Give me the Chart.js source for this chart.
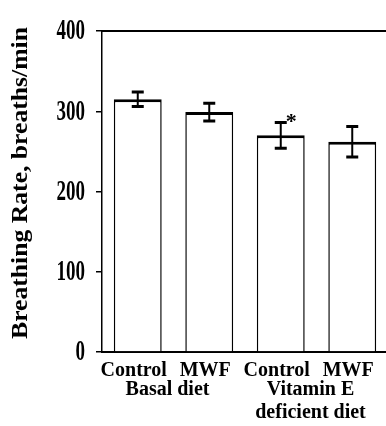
<!DOCTYPE html>
<html>
<head>
<meta charset="utf-8">
<script src="https://cdn.jsdelivr.net/npm/chart.js@4.4.1/dist/chart.umd.min.js"></script>
<style>
  html, body { margin: 0; padding: 0; background: #fff; overflow: hidden; }
  #wrap { width: 386px; height: 426px; overflow: hidden; }
  #wrap canvas { display: block; }
</style>
</head>
<body>
<div id="wrap"><canvas id="chart" width="390" height="426"></canvas></div>
<script>
// chart values
const categories = ['Control', 'MWF', 'Control', 'MWF'];
const groupLabels = [['Basal diet'], ['Vitamin E', 'deficient diet']];
const groupMembers = [[0, 1], [2, 3]];
const breathingRate = [315, 299, 270, 262];
const breathingSem = [9, 11, 16, 19];
const significance = ['', '', '*', ''];
const yTicks = [0, 100, 200, 300, 400];
const yTitle = 'Breathing Rate, breaths/min';

const serif = '"Liberation Serif", "Times New Roman", serif';

// error bars, significance star, top frame line
const errorBarPlugin = {
    id: 'errorBars',
    afterDatasetsDraw(chart) {
        const ctx = chart.ctx;
        const yScale = chart.scales.y;
        const meta = chart.getDatasetMeta(0);
        const area = chart.chartArea;
        ctx.save();
        ctx.strokeStyle = '#000';
        ctx.lineWidth = 2;
        ctx.beginPath();
        ctx.moveTo(area.left, area.top);
        ctx.lineTo(area.right + 4, area.top);
        ctx.stroke();

        meta.data.forEach((bar, i) => {
            const x = bar.x;
            const hi = yScale.getPixelForValue(breathingRate[i] + breathingSem[i]);
            const lo = yScale.getPixelForValue(breathingRate[i] - breathingSem[i]);
            ctx.lineWidth = 2;
            ctx.beginPath();
            ctx.moveTo(x, hi);
            ctx.lineTo(x, lo);
            ctx.stroke();
            ctx.lineWidth = 3;
            ctx.beginPath();
            ctx.moveTo(x - 6, hi);
            ctx.lineTo(x + 6, hi);
            ctx.moveTo(x - 6, lo);
            ctx.lineTo(x + 6, lo);
            ctx.stroke();
            if (significance[i]) {
                ctx.fillStyle = '#000';
                ctx.font = 'bold 22px ' + serif;
                ctx.textAlign = 'left';
                ctx.textBaseline = 'alphabetic';
                ctx.fillText(significance[i], x + 5, hi + 6);
            }
        });
        ctx.restore();
    }
};

// axis texts: stretched y labels, category and group labels
const axisTextPlugin = {
    id: 'axisText',
    afterDraw(chart) {
        const ctx = chart.ctx;
        const yScale = chart.scales.y;
        const xScale = chart.scales.x;
        const area = chart.chartArea;
        ctx.save();
        ctx.fillStyle = '#000';

        ctx.font = 'bold 19px ' + serif;
        ctx.textAlign = 'right';
        ctx.textBaseline = 'middle';
        yTicks.forEach(v => {
            const y = yScale.getPixelForValue(v);
            ctx.save();
            ctx.translate(area.left - 17, y + 1);
            ctx.scale(1, 1.5);
            ctx.fillText(String(v), 0, 0);
            ctx.restore();
        });

        ctx.save();
        ctx.translate(27, 183);
        ctx.rotate(-Math.PI / 2);
        ctx.scale(1.14, 1);
        ctx.font = 'bold 22.5px ' + serif;
        ctx.textAlign = 'center';
        ctx.textBaseline = 'alphabetic';
        ctx.fillText(yTitle, 0, 0);
        ctx.restore();

        ctx.font = 'bold 20px ' + serif;
        ctx.textAlign = 'center';
        ctx.textBaseline = 'alphabetic';
        categories.forEach((c, i) => {
            ctx.fillText(c, xScale.getPixelForValue(i) - 4, area.bottom + 24);
        });
        groupLabels.forEach((lines, g) => {
            const idx = groupMembers[g];
            const cx = (xScale.getPixelForValue(idx[0]) + xScale.getPixelForValue(idx[idx.length - 1])) / 2 - 6;
            lines.forEach((line, k) => {
                ctx.fillText(line, cx, area.bottom + 43 + k * 23);
            });
        });
        ctx.restore();
    }
};

new Chart(document.getElementById('chart').getContext('2d'), {
    type: 'bar',
    data: {
        labels: categories,
        datasets: [{
            data: breathingRate,
            backgroundColor: '#fff',
            borderColor: '#000',
            borderWidth: { top: 3, left: 1.5, right: 1.5, bottom: 0 },
            borderSkipped: false,
            categoryPercentage: 1,
            barPercentage: 0.67
        }]
    },
    options: {
        responsive: false,
        animation: false,
        events: [],
        layout: { padding: { top: 31, right: 2, bottom: 74, left: 0 } },
        plugins: { legend: { display: false }, tooltip: { enabled: false } },
        scales: {
            x: {
                type: 'category',
                grid: { display: false },
                border: { display: true, color: '#000', width: 2 },
                ticks: { display: false },
                afterFit(scale) { scale.height = 0; }
            },
            y: {
                min: 0,
                max: 400,
                afterBuildTicks(scale) { scale.ticks = yTicks.map(v => ({ value: v })); },
                grid: { drawOnChartArea: false, drawTicks: true, tickLength: 6, color: '#000', lineWidth: 1.5 },
                border: { display: true, color: '#000', width: 1.5 },
                ticks: { display: false },
                afterFit(scale) { scale.width = 102; }
            }
        }
    },
    plugins: [errorBarPlugin, axisTextPlugin]
});
</script>
</body>
</html>
